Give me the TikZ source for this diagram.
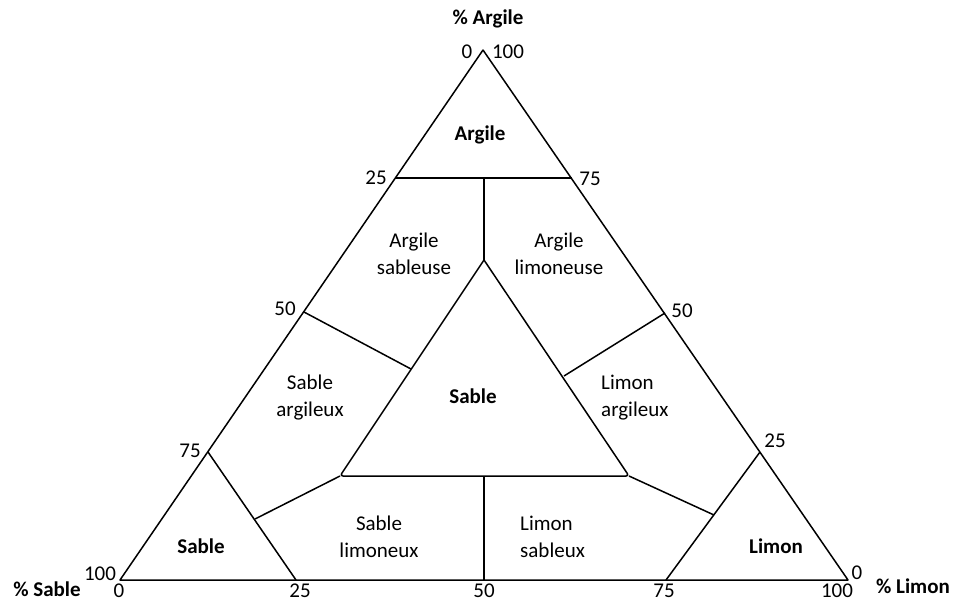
\documentclass[tikz,border=0pt]{standalone}
\usepackage{fontspec}
\setmainfont{Carlito}
\begin{document}
\begin{tikzpicture}[x=1pt,y=-1pt,
  edge/.style={line width=1.5pt, black, line join=round},
  zone/.style={font=\fontsize{21}{27}\selectfont, align=center, inner sep=0pt},
  zoneleft/.style={font=\fontsize{21}{27}\selectfont, align=left, inner sep=0pt},
  zonebold/.style={font=\fontsize{21}{27}\selectfont\bfseries, inner sep=0pt},
  tick/.style={font=\fontsize{21}{25}\selectfont, inner sep=0pt},
  axis/.style={font=\fontsize{21}{25}\selectfont\bfseries, inner sep=0pt}]
\useasboundingbox (0,0) rectangle (955,603);

% outer triangle corners
\coordinate (A)  at (483,50);
\coordinate (SL) at (120,580);
\coordinate (SR) at (848,580);
% points on the sides
\coordinate (L25) at (395,178);
\coordinate (R75) at (572,178);
\coordinate (L50) at (304,312);
\coordinate (R50) at (665,313);
\coordinate (L75) at (208,452);
\coordinate (R25) at (760,452);
\coordinate (B25) at (296,580);
\coordinate (B50) at (484,580);
\coordinate (B75) at (666,580);
% central triangle
\coordinate (T)  at (484,178);
\coordinate (IA) at (484,260);
\coordinate (IL) at (340,476);
\coordinate (IR) at (629,476);
\coordinate (IB) at (484,476);
% junctions on inner lines
\coordinate (P1) at (411,369);
\coordinate (P2) at (564,376);
\coordinate (Q1) at (255,519);
\coordinate (Q2) at (714,515);

% outline
\draw[edge] (A) -- (SL) -- (SR) -- cycle;
% inner boundaries
\draw[edge] (L25) -- (R75);
\draw[edge] (T) -- (IA);
\draw[edge] (IA) [rounded corners=3pt] -- (IL) -- (IR) [sharp corners] -- cycle;
\draw[edge] (L50) -- (P1);
\draw[edge] (R50) -- (P2);
\draw[edge] (L75) -- (B25);
\draw[edge] (R25) -- (B75);
\draw[edge] (Q1) -- (IL);
\draw[edge] (IR) -- (Q2);
\draw[edge] (IB) -- (B50);

% axis titles
\node[axis] (tArg) at (488,19) {\% Argile};
\node[axis] (tSab) at (47,589) {\% Sable};
\node[axis] (tLim) at (913,586) {\% Limon};

% graduations
\node[tick] (n0a)   at (467,52)  {0};
\node[tick] (n100a) at (508,52)  {100};
\node[tick] (n25l)  at (376,178) {25};
\node[tick] (n75r)  at (590,179) {75};
\node[tick] (n50l)  at (285,309) {50};
\node[tick] (n50r)  at (682,311) {50};
\node[tick] (n75l)  at (190,451) {75};
\node[tick] (n25r)  at (775,441) {25};
\node[tick] (n100l) at (100,574) {100};
\node[tick] (n0r)   at (857,573) {0};
\node[tick] (b0)    at (119,591) {0};
\node[tick] (b25)   at (300,591) {25};
\node[tick] (b50)   at (484,591) {50};
\node[tick] (b75)   at (664,591) {75};
\node[tick] (b100)  at (837,591) {100};

% texture classes
\node[zonebold] (zArg) at (480,135) {Argile};
\node[zone] (zAS) at (414,254) {Argile\\sableuse};
\node[zone] (zAL) at (559,254) {Argile\\limoneuse};
\node[zonebold] (zSc) at (473,396) {Sable};
\node[zone] (zSA) at (310,398) {Sable\\argileux};
\node[zoneleft, anchor=west] (zLA) at (601,398) {Limon\\argileux};
\node[zone] (zSL) at (379,537) {Sable\\limoneux};
\node[zoneleft, anchor=west] (zLS) at (520,537) {Limon\\sableux};
\node[zonebold] (zS) at (201,546) {Sable};
\node[zonebold] (zL) at (776,546) {Limon};
\end{tikzpicture}
\end{document}
